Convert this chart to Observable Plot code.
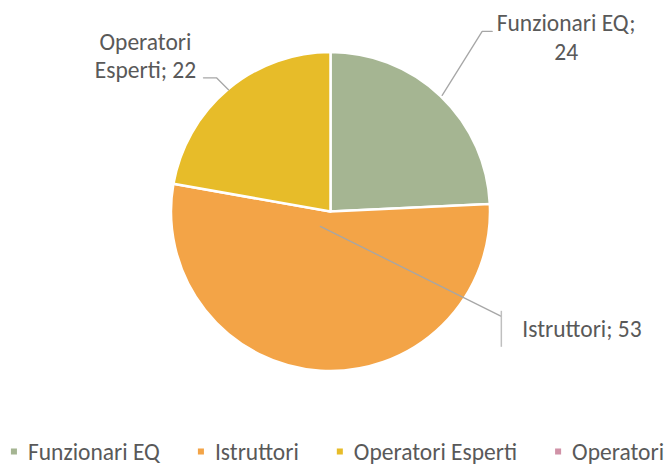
<!DOCTYPE html>
<html>
<head>
<meta charset="utf-8">
<script src="https://cdn.jsdelivr.net/npm/d3@7"></script>
<script src="https://cdn.jsdelivr.net/npm/@observablehq/plot@0.6"></script>
<style>
  html, body { margin: 0; padding: 0; background: #fff; }
  #chart svg { display: block; }
</style>
</head>
<body>
<div id="chart"></div>
<script>
// ---- data ----
const categories = ["Funzionari EQ", "Istruttori", "Operatori Esperti", "Operatori"];
const values = [24, 53, 22, 0];
const colors = ["#A5B592", "#F3A447", "#E7BC29", "#D092A7"];

const FONT = "Carlito, Lato, 'Open Sans', sans-serif";
const FS = 23.5;
const TEXT = "#595959";
const LEADER = "#A6A6A6";

const W = 667, H = 464;
const CX = 330.5, CY = 211.5, R = 159.5;

const data = categories.map((c, i) => ({category: c, value: values[i]}));
const pie = d3.pie().sort(null).value(d => d.value)(data.filter(d => d.value > 0));
const arcOf = Object.fromEntries(pie.map(a => [a.data.category, a]));
const mid = a => (a.startAngle + a.endAngle) / 2;
const polar = (a, f) => ({x: f * Math.sin(a), y: f * Math.cos(a)});
const ux = px => px / R, uy = py => -py / R;

// label layout (pixel offsets relative to the leader's start on the pie)
const labelSpec = [
  {cat: "Funzionari EQ", f: 1.01, shift: [0, 0], bend: [40, -64], end: [50, -64], lines: (c, v) => [c + ";", String(v)], tx: [124, -64], anchor: "middle"},
  {cat: "Operatori Esperti", f: 1.0, shift: [0, 0], bend: [-12, -12], end: [-25, -12], lines: (c, v) => ["Operatori", "Esperti; " + v], tx: [-83, -40], anchor: "middle"},
  {cat: "Istruttori", f: 0.115, shift: [-9.5, -4], bend: [181, 90], end: [181, 90], lines: (c, v) => [c + "; " + v], tx: [202, 111], anchor: "start", vbar: [-5, 31]}
];

const leaderPts = [];
const vbars = [];
const labelTexts = [];
labelSpec.forEach((s, k) => {
  const a = arcOf[s.cat];
  const p0 = polar(mid(a), s.f);
  const p = {x: p0.x + ux(s.shift[0]), y: p0.y + uy(s.shift[1])};
  const v = a.data.value;
  leaderPts.push({k, x: p.x, y: p.y});
  leaderPts.push({k, x: p.x + ux(s.bend[0]), y: p.y + uy(s.bend[1])});
  leaderPts.push({k, x: p.x + ux(s.end[0]), y: p.y + uy(s.end[1])});
  if (s.vbar) {
    vbars.push({x: p.x + ux(s.end[0]), y1: p.y + uy(s.end[1] + s.vbar[0]), y2: p.y + uy(s.end[1] + s.vbar[1])});
  }
  s.lines(s.cat, v).forEach((t, j) => {
    labelTexts.push({text: t, x: p.x + ux(s.tx[0]), y: p.y + uy(s.tx[1] + j * 28.5), anchor: s.anchor});
  });
});

// legend layout: measure texts and center
const ctx = document.createElement("canvas").getContext("2d");
ctx.font = `${FS}px ${FONT}`;
const SQ = 6, GAP1 = 11, GAP2 = 38;
const widths = categories.map(c => ctx.measureText(c).width);
const total = d3.sum(widths) + categories.length * (SQ + GAP1) + (categories.length - 1) * GAP2;
let cur = 337 - total / 2;
const legendItems = categories.map((c, i) => {
  const sqx = cur + SQ / 2;
  const tx = cur + SQ + GAP1;
  cur = tx + widths[i] + GAP2;
  return {category: c, sx: (sqx - CX) / R, tx: (tx - CX) / R};
});
const LEG_Y_SQ = (CY - 451) / R, LEG_Y_TX = (CY - 459) / R;

const chart = Plot.plot({
  width: W, height: H,
  margin: 0,
  style: {background: "#fff", fontFamily: FONT},
  x: {type: "linear", domain: [-1, 1], range: [CX - R, CX + R], axis: null},
  y: {type: "linear", domain: [-1, 1], range: [CY + R, CY - R], axis: null},
  color: {domain: categories, range: colors},
  marks: [
    // pie slices, drawn through Plot's scales
    (index, scales) => {
      const g = d3.create("svg:g");
      const cx = scales.x(0), cy = scales.y(0), r = scales.x(1) - scales.x(0);
      const arc = d3.arc().innerRadius(0).outerRadius(r);
      g.attr("transform", `translate(${cx},${cy})`)
        .selectAll("path").data(pie).join("path")
        .attr("d", arc)
        .attr("fill", d => scales.color(d.data.category))
        .attr("stroke", "#fff")
        .attr("stroke-width", 2.5)
        .attr("stroke-linejoin", "round");
      return g.node();
    },
    Plot.line(leaderPts, {x: "x", y: "y", z: "k", stroke: LEADER, strokeWidth: 1.3, curve: "linear"}),
    Plot.ruleX(vbars, {x: "x", y1: "y1", y2: "y2", stroke: "#BFBFBF", strokeWidth: 1.5}),
    Plot.text(labelTexts.filter(d => d.anchor === "middle"), {x: "x", y: "y", text: "text", textAnchor: "middle", fill: TEXT, fontSize: FS, lineAnchor: "bottom"}),
    Plot.text(labelTexts.filter(d => d.anchor === "start"), {x: "x", y: "y", text: "text", textAnchor: "start", fill: TEXT, fontSize: FS, lineAnchor: "bottom"}),
    Plot.dot(legendItems, {x: "sx", y: () => LEG_Y_SQ, fill: "category", symbol: "square", r: 3.4}),
    Plot.text(legendItems, {x: "tx", y: () => LEG_Y_TX, text: "category", textAnchor: "start", fill: TEXT, fontSize: FS, lineAnchor: "bottom"})
  ]
});
document.getElementById("chart").appendChild(chart);
</script>
</body>
</html>
